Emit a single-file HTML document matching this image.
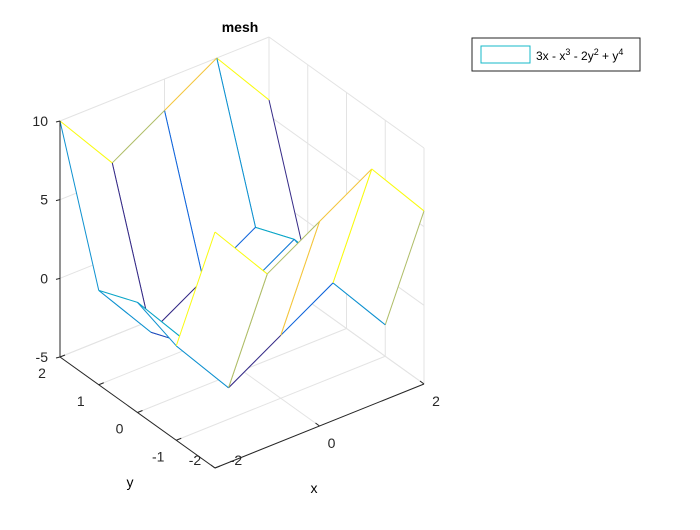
<!DOCTYPE html>
<html><head><meta charset="utf-8"><style>
body{margin:0;background:#fff;}
svg text{font-family:"Liberation Sans",Arial,sans-serif;}
</style></head><body>
<svg id="c" width="700" height="525" viewBox="0 0 700 525">
<rect width="700" height="525" fill="#fff"/>
<g id="grid"></g><g id="mesh"></g><g id="axes"></g>
<text x="240" y="32" font-size="14" font-weight="bold" text-anchor="middle">mesh</text>
<text x="314" y="493" font-size="14" text-anchor="middle">x</text>
<text x="130" y="487" font-size="14" text-anchor="middle">y</text>
<g>
<rect x="472" y="38" width="168" height="33" fill="#fff" stroke="#262626" stroke-width="1"/>
<rect x="481" y="46" width="49" height="17" fill="#fff" stroke="#14b8c8" stroke-width="1"/>
<text x="536" y="60" font-size="12">3x - x<tspan dy="-5" font-size="9">3</tspan><tspan dy="5"> - 2y</tspan><tspan dy="-5" font-size="9">2</tspan><tspan dy="5"> + y</tspan><tspan dy="-5" font-size="9">4</tspan></text>
</g>
</svg>
<script>
const xs=[-2,-1,0,1,2];
const ys=[-2,-1,0,1,2];
// Z[i][j]: y=ys[i], x=xs[j]
const Z=[[10,6,8,10,6],[1,-3,-1,1,-3],[2,-2,0,2,-2],[1,-3,-1,1,-3],[10,6,8,10,6]];
const xTicks=[-2,0,2];
const yTicks=[-2,-1,0,1,2];
const zTicks=[-5,0,5,10];
const xLim=[-2,2],yLim=[-2,2],zLim=[-5,10],cLim=[-3,10];
const NS="http://www.w3.org/2000/svg";
function P(x,y,z){const u=(x-xLim[0])/(xLim[1]-xLim[0]),v=(yLim[1]-y)/(yLim[1]-yLim[0]),w=(z-zLim[0])/(zLim[1]-zLim[0]);
return [60+u*209+v*155, 357-w*236-u*84+v*111];}
const par=[[53,42,135],[15,92,221],[20,129,214],[6,164,202],[46,183,164],[135,191,119],[209,187,89],[254,200,50],[249,251,14]];
function col(z){let t=(z-cLim[0])/(cLim[1]-cLim[0]);t=Math.max(0,Math.min(1,t))*(par.length-1);const i=Math.min(par.length-2,Math.floor(t)),f=t-i;
const c=par[i].map((a,k)=>Math.round(a+(par[i+1][k]-a)*f));return `rgb(${c})`;}
function mk(tag,attrs,parent){const e=document.createElementNS(NS,tag);for(const k in attrs)e.setAttribute(k,attrs[k]);parent.appendChild(e);return e;}
function line(g,a,b,stroke,w){return mk('line',{x1:a[0],y1:a[1],x2:b[0],y2:b[1],stroke:stroke,'stroke-width':w},g);}
const grid=document.getElementById('grid');
const gc='#e3e3e3';
xTicks.forEach(x=>{let l=line(grid,P(x,2,zLim[0]),P(x,2,zLim[1]),gc,1);


l=line(grid,P(x,yLim[0],zLim[0]),P(x,yLim[1],zLim[0]),gc,1);

});
yTicks.forEach(y=>{let l=line(grid,P(2,y,zLim[0]),P(2,y,zLim[1]),gc,1);


l=line(grid,P(xLim[0],y,zLim[0]),P(xLim[1],y,zLim[0]),gc,1);

});
zTicks.forEach(z=>{let l=line(grid,P(-2,2,z),P(2,2,z),gc,1);


l=line(grid,P(2,2,z),P(2,-2,z),gc,1);

});
const mesh=document.getElementById('mesh');
const quads=[];
for(let i=0;i<ys.length-1;i++)for(let j=0;j<xs.length-1;j++){
const g=P((xs[j]+xs[j+1])/2,(ys[i]+ys[i+1])/2,zLim[0]);quads.push([g[1],i,j]);}
quads.sort((a,b)=>a[0]-b[0]);
quads.forEach(([d,i,j])=>{
const v=[[i,j],[i,j+1],[i+1,j+1],[i+1,j]];
const pts=v.map(([a,b])=>P(xs[b],ys[a],Z[a][b]));
const g=mk('g',{},mesh);


mk('polygon',{points:pts.map(p=>p.join(',')).join(' '),fill:'#fff',stroke:'none'},g);
const edges=[[[i,j],[i,j+1]],[[i,j+1],[i+1,j+1]],[[i+1,j],[i+1,j+1]],[[i,j],[i+1,j]]];
edges.forEach(([a,b])=>{const l=line(g,P(xs[a[1]],ys[a[0]],Z[a[0]][a[1]]),P(xs[b[1]],ys[b[0]],Z[b[0]][b[1]]),col(Z[a[0]][a[1]]),1);

});
});
const ax=document.getElementById('axes');const ac='#262626';
let a=line(ax,P(-2,2,zLim[0]),P(-2,2,zLim[1]),ac,1);


a=line(ax,P(-2,2,zLim[0]),P(-2,-2,zLim[0]),ac,1);


a=line(ax,P(-2,-2,zLim[0]),P(2,-2,zLim[0]),ac,1);


function txt(x,y,s,anchor){const t=mk('text',{x:x,y:y,'font-size':14,'text-anchor':anchor,fill:'#262626'},ax);t.textContent=s;return t;}
zTicks.forEach(z=>{const p=P(-2,2,z);line(ax,p,[p[0]-4,p[1]+1],ac,1);
const t=txt(p[0]-12,p[1]+5,String(z),'end');

});
yTicks.forEach((y,k)=>{const p=P(-2,y,zLim[0]);line(ax,p,[p[0]+5,p[1]-2],ac,1);
const last=y===yLim[0];
const t=txt(last?p[0]-20:p[0]-18,last?p[1]-3:p[1]+21,String(y),'middle');

});
xTicks.forEach(x=>{const p=P(x,-2,zLim[0]);line(ax,p,[p[0]-4,p[1]-3],ac,1);
const first=x===xLim[0];
const t=txt(first?p[0]+21:p[0]+12,first?p[1]-3:p[1]+22,String(x),'middle');

});
</script>
</body></html>
